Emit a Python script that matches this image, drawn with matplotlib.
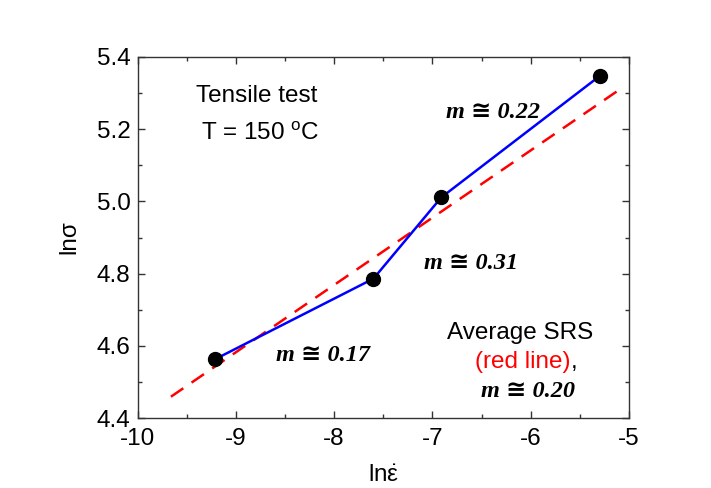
import matplotlib.pyplot as plt
from matplotlib.ticker import MultipleLocator

plt.rcParams['font.family'] = ['Liberation Sans', 'DejaVu Sans']
plt.rcParams['mathtext.fontset'] = 'custom'
plt.rcParams['mathtext.rm'] = 'Liberation Sans'
plt.rcParams['mathtext.it'] = 'Liberation Sans:italic'
plt.rcParams['axes.unicode_minus'] = False

# data
ln_rate = [-9.21, -7.60, -6.91, -5.30]
ln_stress = [4.563, 4.786, 5.011, 5.347]

# average SRS line (red dashed), end points
fit_x = [-9.66, -5.09]
fit_y = [4.459, 5.311]

slope_labels = ['m ≅ 0.17', 'm ≅ 0.31', 'm ≅ 0.22']

fig = plt.figure(figsize=(7.11, 4.88), dpi=100)
ax = fig.add_axes([0.1934, 0.1434, 0.6913, 0.7398])

ax.plot(fit_x, fit_y, color='#ff0000', lw=1.8, ls=(0, (6, 4)), zorder=2)
ax.plot(ln_rate, ln_stress, color='#0000ff', lw=1.8, zorder=3)
ax.plot(ln_rate, ln_stress, 'o', color='black', ms=10, zorder=4)

ax.set_xlim(-10, -5)
ax.set_ylim(4.4, 5.4)
ax.xaxis.set_major_locator(MultipleLocator(1))
ax.xaxis.set_minor_locator(MultipleLocator(0.5))
ax.yaxis.set_major_locator(MultipleLocator(0.2))
ax.yaxis.set_minor_locator(MultipleLocator(0.1))
ax.yaxis.set_major_formatter(lambda v, p: '%.1f' % v)

ax.tick_params(which='both', direction='in', top=True, right=True,
               labelsize=17.5, color='#333333')
ax.tick_params(which='major', length=5, width=1)
ax.tick_params(which='minor', length=3, width=1)
ax.tick_params(axis='x', pad=7)
ax.tick_params(axis='y', pad=5)
for s in ax.spines.values():
    s.set_color('#333333')
    s.set_linewidth(1)

ax.set_xlabel(r'$\mathrm{ln\dot{\varepsilon}}$', fontsize=17.5, labelpad=11)
ax.set_ylabel('lnσ', fontsize=17.5, labelpad=12)

ax.text(-8.787, 5.276, 'Tensile test', fontsize=17.5, ha='center', va='baseline')
ax.text(-8.754, 5.170, r'T = 150 $^\mathrm{o}$C', fontsize=17.5, ha='center', va='baseline')

serif = ['Liberation Serif', 'DejaVu Serif', 'DejaVu Sans']
mkw = dict(fontsize=17.5, family=serif, weight='bold', style='italic',
           ha='center', va='baseline')
ax.text(-8.113, 4.559, slope_labels[0], **mkw)
ax.text(-6.611, 4.812, slope_labels[1], **mkw)
ax.text(-6.384, 5.231, slope_labels[2], **mkw)

ax.text(-6.112, 4.618, 'Average SRS', fontsize=17.5, ha='center', va='baseline')
t = ax.text(-6.08, 4.538, '(red line)', fontsize=17.5, color='#ff0000',
            ha='center', va='baseline')
ax.annotate(',', xycoords=t, xy=(1, 0), fontsize=17.5, va='bottom', ha='left')
ax.text(-6.027, 4.459, 'm ≅ 0.20', **mkw)

plt.savefig('out.png', dpi=100)
